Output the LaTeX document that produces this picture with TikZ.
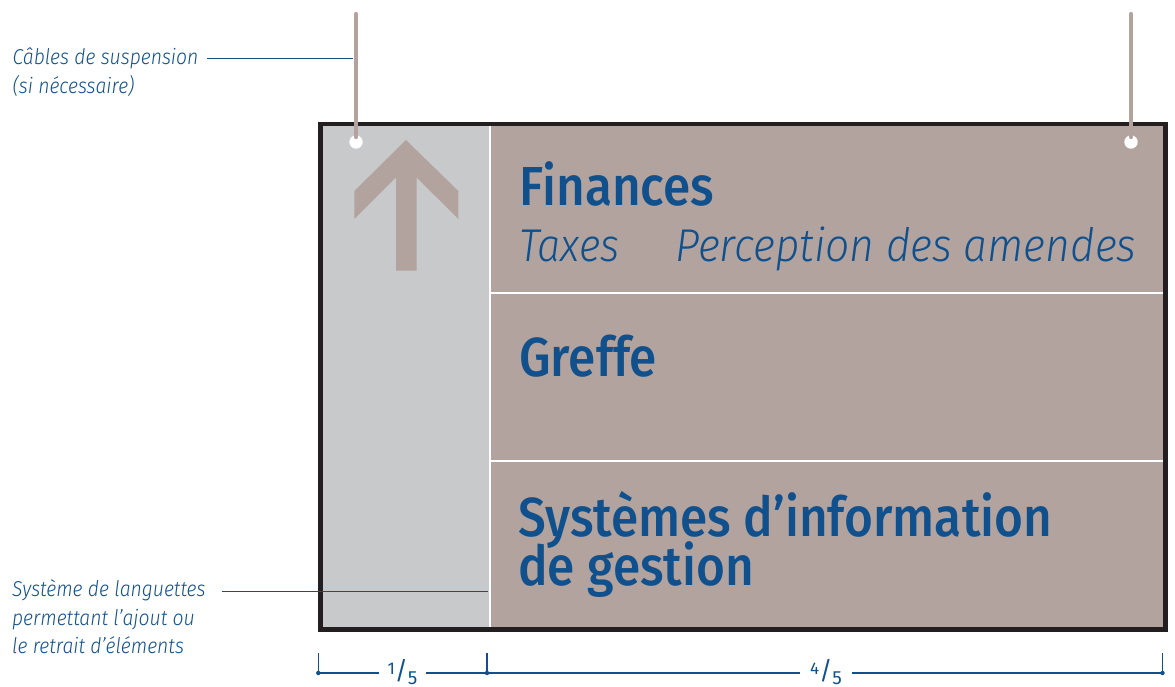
\documentclass[tikz,border=0pt]{standalone}
\usepackage{fontspec}
\IfFontExistsTF{Fira Sans Medium}
 {\newfontfamily\signfont{Fira Sans Medium}[FakeStretch=0.9]}
 {\newfontfamily\signfont{Fira Sans}[FakeStretch=0.9,FakeBold=1.2]}
\IfFontExistsTF{Fira Sans Light}
 {\newfontfamily\litfont{Fira Sans Light}[FakeStretch=0.9]}
 {\newfontfamily\litfont{Fira Sans}[FakeStretch=0.9]}
\newfontfamily\numfont{Fira Sans}
\definecolor{signblue}{RGB}{16,80,140}
\definecolor{paneltan}{RGB}{178,163,159}
\definecolor{panelgrey}{RGB}{200,201,203}
\definecolor{signborder}{RGB}{35,31,32}
\newcommand{\signfrac}[2]{\raisebox{5pt}{\fontsize{17}{17}\selectfont #1}{\fontsize{25}{25}\selectfont /}\raisebox{-4.5pt}{\fontsize{19}{19}\selectfont #2}}
\begin{document}
\begin{tikzpicture}[x=1pt,y=-1pt,
  signbig/.style={inner sep=0pt, anchor=base west, text=signblue, font=\signfont\fontsize{55}{55}\selectfont},
  signsub/.style={inner sep=0pt, anchor=base west, text=signblue, font=\litfont\itshape\fontsize{46}{46}\selectfont},
  labeltxt/.style={inner sep=0pt, anchor=base west, text=signblue, font=\litfont\itshape\fontsize{21.5}{21.5}\selectfont},
  leader/.style={draw=signblue, line width=1.1pt},
  dimline/.style={draw=signblue, line width=1.3pt},
  cable/.style={draw=paneltan, line width=4.3pt, line cap=round},
  divider/.style={draw=white, line width=2.5pt},
  frac/.style={inner ysep=0pt, text=signblue, font=\numfont},
  dimdot/.style={fill=signblue, circle, inner sep=0pt, minimum size=4.4pt}
]
\fill[white] (0,0) rectangle (1175,687);
\useasboundingbox (0,0) rectangle (1175,687);

% panels
\fill[panelgrey] (320.5,124) rectangle (490,629.5);
\fill[paneltan] (490,124) rectangle (1165.5,629.5);
\draw[divider] (490,124) -- (490,629.5);
\draw[divider] (490,293) -- (1165.5,293);
\draw[divider] (490,461) -- (1165.5,461);

% arrow
\fill[paneltan] (406,140) -- (458.3,191) -- (458.3,219) -- (416.7,177.5) -- (416.7,270.7)
  -- (396,270.7) -- (396,177.5) -- (354.3,219) -- (354.3,191) -- cycle;

% border
\draw[signborder, line width=4.2pt] (320.5,124) rectangle (1165.5,629.5);

% holes and cables
\fill[white] (356,142) circle (6.7);
\fill[white] (1131,142) circle (6.7);
\draw[cable] (356,14) -- (356,137);
\draw[cable] (1131,14) -- (1131,137);

% sign texts
\node[signbig] (fin) at (519.5,206) {Finances};
\node[signsub] (tax) at (519,261.7) {Taxes};
\node[signsub] (perc) at (675,261.7) {\scalebox{1.028}[1]{Perception des amendes}};
\node[signbig] (gre) at (519,376.5) {Greffe};
\node[signbig] (sys) at (518,536.7) {Systèmes d’information};
\node[signbig] (ges) at (518,585) {de gestion};

% labels
\node[labeltxt] (lab1a) at (12.5,64.3) {Câbles de suspension};
\node[labeltxt] (lab1b) at (12.5,93.3) {(si nécessaire)};
\coordinate (c1) at (353,58.3);
\draw[leader] ([xshift=8pt]lab1a.east |- c1) -- (c1);

\node[labeltxt] (lab2a) at (12,596.7) {Système de languettes};
\node[labeltxt] (lab2b) at (12,625) {permettant l’ajout ou};
\node[labeltxt] (lab2c) at (12,653.3) {le retrait d’éléments};
\coordinate (c2) at (488,591.7);
\draw[leader] ([xshift=16pt]lab2a.east |- c2) -- (c2);

% dimension line
\coordinate (d0) at (318.3,673);
\coordinate (d1) at (487,673);
\coordinate (d2) at (1162.5,673);
\coordinate (t0) at (318.3,653);
\coordinate (t1) at (487,653);
\coordinate (t2) at (1162.5,653);
\node[frac, inner xsep=8pt] (f1) at (402.5,672) {\signfrac{1}{5}};
\node[frac, inner xsep=10pt] (f2) at (826,672) {\signfrac{4}{5}};
\draw[dimline] (d0) -- (f1.west |- d0);
\draw[dimline] (f1.east |- d0) -- (d1) -- (f2.west |- d1);
\draw[dimline] (f2.east |- d2) -- (d2);
\draw[dimline] (t0) -- (d0);
\draw[dimline] (t1) -- (d1);
\draw[dimline] (t2) -- (d2);
\node[dimdot] at (d0) {};
\node[dimdot] at (d1) {};
\node[dimdot] at (d2) {};
\end{tikzpicture}
\end{document}
